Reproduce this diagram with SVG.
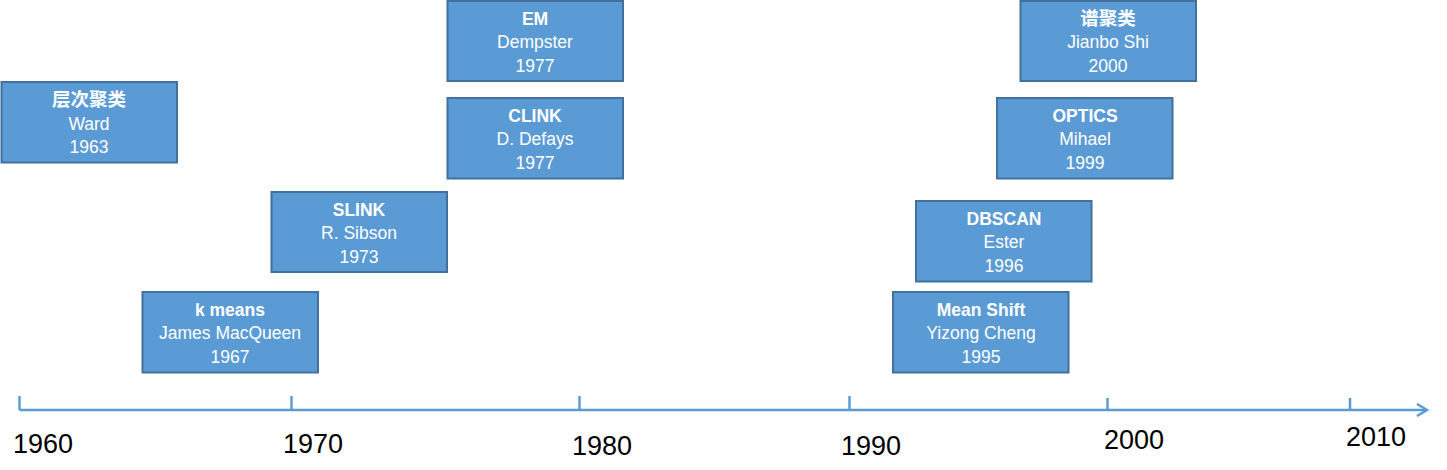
<svg xmlns="http://www.w3.org/2000/svg" width="1447" height="470" viewBox="0 0 1447 470">
<style>
.box{fill:#5B9BD5;stroke:#41719C;stroke-width:2}
.t{font-family:"Liberation Sans","Noto Sans CJK SC",sans-serif;font-size:17.5px;fill:#FFFFFF;text-anchor:middle}
.b{font-weight:bold}
.cjk{font-family:"Noto Sans CJK SC",sans-serif;font-size:18.5px;font-weight:bold}
.axis{stroke:#5B9BD5;stroke-width:2.5;fill:none}
.yr{font-family:"Liberation Sans",sans-serif;font-size:27px;fill:#000000}
</style>
<defs>
<marker id="arr" markerWidth="14" markerHeight="14" refX="12" refY="7" orient="auto" markerUnits="userSpaceOnUse">
<path d="M2,1 L12,7 L2,13" fill="none" stroke="#5B9BD5" stroke-width="2.5"/>
</marker>
</defs>
<g id="connectors">
<line class="axis" x1="19.5" y1="410" x2="1427" y2="410" marker-end="url(#arr)"/>
<line class="axis" x1="19.5" y1="396" x2="19.5" y2="410"/>
<line class="axis" x1="291.5" y1="396" x2="291.5" y2="410"/>
<line class="axis" x1="579.5" y1="396" x2="579.5" y2="410"/>
<line class="axis" x1="849.5" y1="396" x2="849.5" y2="410"/>
<line class="axis" x1="1107.5" y1="398" x2="1107.5" y2="410"/>
<line class="axis" x1="1350" y1="398" x2="1350" y2="410"/>
</g>
<g id="axis-labels">
<text class="yr" x="13" y="453">1960</text>
<text class="yr" x="283" y="453">1970</text>
<text class="yr" x="572" y="455">1980</text>
<text class="yr" x="841" y="455">1990</text>
<text class="yr" x="1104" y="449">2000</text>
<text class="yr" x="1346" y="446">2010</text>
</g>
<g id="node-hier">
<rect class="box" x="1.5" y="82" width="175.5" height="80.5"/>
<text class="t cjk" x="89" y="106">层次聚类</text>
<text class="t" x="89" y="130">Ward</text>
<text class="t" x="89" y="153">1963</text>
</g>
<g id="node-kmeans">
<rect class="box" x="142.5" y="292" width="175.5" height="80.5"/>
<text class="t b" x="230" y="316">k means</text>
<text class="t" x="230" y="339">James MacQueen</text>
<text class="t" x="230" y="363">1967</text>
</g>
<g id="node-slink">
<rect class="box" x="271.5" y="192" width="175.5" height="80"/>
<text class="t b" x="359" y="216">SLINK</text>
<text class="t" x="359" y="239">R. Sibson</text>
<text class="t" x="359" y="263">1973</text>
</g>
<g id="node-em">
<rect class="box" x="447.5" y="1" width="175.5" height="80"/>
<text class="t b" x="535" y="25">EM</text>
<text class="t" x="535" y="48">Dempster</text>
<text class="t" x="535" y="72">1977</text>
</g>
<g id="node-clink">
<rect class="box" x="447.5" y="98" width="175.5" height="80.5"/>
<text class="t b" x="535" y="122">CLINK</text>
<text class="t" x="535" y="145">D. Defays</text>
<text class="t" x="535" y="169">1977</text>
</g>
<g id="node-meanshift">
<rect class="box" x="893" y="292" width="175.5" height="80.5"/>
<text class="t b" x="981" y="316">Mean Shift</text>
<text class="t" x="981" y="339">Yizong Cheng</text>
<text class="t" x="981" y="363">1995</text>
</g>
<g id="node-dbscan">
<rect class="box" x="916" y="201" width="175.5" height="80.5"/>
<text class="t b" x="1004" y="225">DBSCAN</text>
<text class="t" x="1004" y="248">Ester</text>
<text class="t" x="1004" y="272">1996</text>
</g>
<g id="node-optics">
<rect class="box" x="997" y="98" width="175.5" height="80.5"/>
<text class="t b" x="1085" y="122">OPTICS</text>
<text class="t" x="1085" y="145">Mihael</text>
<text class="t" x="1085" y="169">1999</text>
</g>
<g id="node-spectral">
<rect class="box" x="1020.5" y="1" width="175.5" height="80"/>
<text class="t cjk" x="1108" y="25">谱聚类</text>
<text class="t" x="1108" y="48">Jianbo Shi</text>
<text class="t" x="1108" y="72">2000</text>
</g>
</svg>
